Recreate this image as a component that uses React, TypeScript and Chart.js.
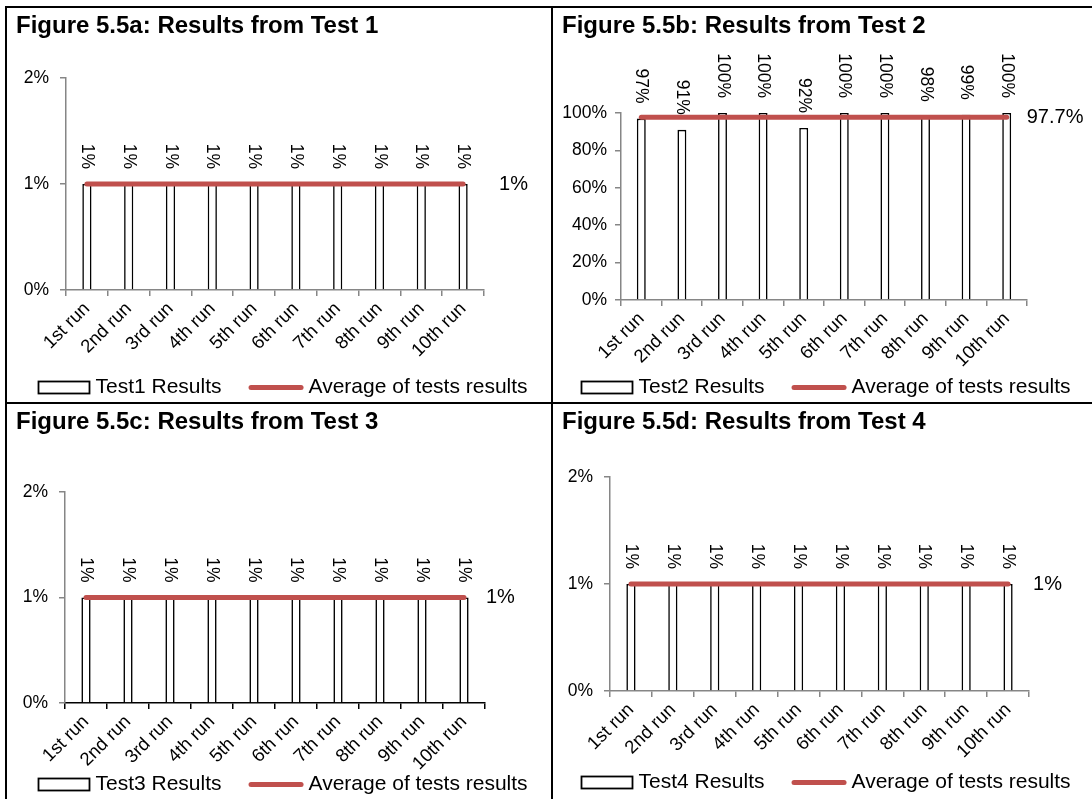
import React, { useEffect, useRef } from 'react';
import { Chart, registerables } from 'chart.js';

Chart.register(...registerables);

const FONT = '"Liberation Sans", Arial, Helvetica, sans-serif';

// ---------- data ----------
const runLabels = ['1st run', '2nd run', '3rd run', '4th run', '5th run', '6th run', '7th run', '8th run', '9th run', '10th run'];

const test1Results = [1, 1, 1, 1, 1, 1, 1, 1, 1, 1];
const test1Average = [1, 1, 1, 1, 1, 1, 1, 1, 1, 1];

const test2Results = [97, 91, 100, 100, 92, 100, 100, 98, 99, 100];
const test2Average = [97.7, 97.7, 97.7, 97.7, 97.7, 97.7, 97.7, 97.7, 97.7, 97.7];

const test3Results = [1, 1, 1, 1, 1, 1, 1, 1, 1, 1];
const test3Average = [1, 1, 1, 1, 1, 1, 1, 1, 1, 1];

const test4Results = [1, 1, 1, 1, 1, 1, 1, 1, 1, 1];
const test4Average = [1, 1, 1, 1, 1, 1, 1, 1, 1, 1];

const smallAxisMax = 2;
const smallAxisStep = 1;
const test2AxisMax = 100;
const test2AxisStep = 20;

const titles = [
  'Figure 5.5a: Results from Test 1',
  'Figure 5.5b: Results from Test 2',
  'Figure 5.5c: Results from Test 3',
  'Figure 5.5d: Results from Test 4',
];
const barSeriesNames = ['Test1 Results', 'Test2 Results', 'Test3 Results', 'Test4 Results'];
const lineSeriesName = 'Average of tests results';
const averageLabels = ['1%', '97.7%', '1%', '1%'];

// ---------- styles / layout ----------
const AXIS_GREY = '#868686';
const AVG_RED = '#C0504D';

type Panel = {
  title: string;
  barName: string;
  values: number[];
  average: number[];
  avgLabel: string;
  yMax: number;
  yStep: number;
  x: number; y: number; w: number; h: number;
  area: { l: number; t: number; r: number; b: number };
  yAxisW: number;
  yPad: number;
  xAxisColor: string;
  avgDx: number;
  legendY: number;
};

const X_AXIS_H = 80;

const panels: Panel[] = [
  {
    title: titles[0], barName: barSeriesNames[0], values: test1Results, average: test1Average, avgLabel: averageLabels[0],
    yMax: smallAxisMax, yStep: smallAxisStep,
    x: 8, y: 9, w: 543, h: 393,
    area: { l: 58, t: 69, r: 476, b: 281 }, yAxisW: 55, yPad: 11,
    xAxisColor: AXIS_GREY, avgDx: 36, legendY: 378,
  },
  {
    title: titles[1], barName: barSeriesNames[1], values: test2Results, average: test2Average, avgLabel: averageLabels[1],
    yMax: test2AxisMax, yStep: test2AxisStep,
    x: 554, y: 9, w: 538, h: 393,
    area: { l: 67, t: 104, r: 473, b: 291 }, yAxisW: 60, yPad: 8,
    xAxisColor: AXIS_GREY, avgDx: 20, legendY: 378,
  },
  {
    title: titles[2], barName: barSeriesNames[2], values: test3Results, average: test3Average, avgLabel: averageLabels[2],
    yMax: smallAxisMax, yStep: smallAxisStep,
    x: 8, y: 405, w: 543, h: 394,
    area: { l: 57, t: 87, r: 477, b: 298 }, yAxisW: 55, yPad: 11,
    xAxisColor: '#000000', avgDx: 22, legendY: 379,
  },
  {
    title: titles[3], barName: barSeriesNames[3], values: test4Results, average: test4Average, avgLabel: averageLabels[3],
    yMax: smallAxisMax, yStep: smallAxisStep,
    x: 554, y: 405, w: 538, h: 394,
    area: { l: 56, t: 72, r: 475, b: 286 }, yAxisW: 50, yPad: 11,
    xAxisColor: AXIS_GREY, avgDx: 25, legendY: 377,
  },
];

const overlayPlugin = {
  id: 'overlay',
  afterDraw(chart: any, _args: any, opts: any) {
    const ctx: CanvasRenderingContext2D = chart.ctx;
    ctx.save();

    // title
    ctx.fillStyle = '#000';
    ctx.font = `bold 24px ${FONT}`;
    ctx.textAlign = 'left';
    ctx.textBaseline = 'middle';
    ctx.fillText(opts.title, 8, 17);

    // rotated data labels above each bar
    const barMeta = chart.getDatasetMeta(0);
    const values = chart.data.datasets[0].data as number[];
    ctx.font = `17.5px ${FONT}`;
    barMeta.data.forEach((bar: any, i: number) => {
      ctx.save();
      ctx.translate(bar.x, bar.y - 15);
      ctx.rotate(Math.PI / 2);
      ctx.textAlign = 'right';
      ctx.textBaseline = 'middle';
      ctx.fillText(`${values[i]}%`, 0, 0);
      ctx.restore();
    });

    // average label right of last line point
    const lineMeta = chart.getDatasetMeta(1);
    const last = lineMeta.data[lineMeta.data.length - 1];
    ctx.font = `20px ${FONT}`;
    ctx.textAlign = 'left';
    ctx.textBaseline = 'middle';
    ctx.fillText(opts.avgLabel, last.x + opts.avgDx, last.y);

    // legend
    ctx.font = `21px ${FONT}`;
    const barText = chart.data.datasets[0].label;
    const lineText = chart.data.datasets[1].label;
    const boxW = 51, gap1 = 6, gap2 = 27, lineW = 55, gap3 = 5;
    const t1 = ctx.measureText(barText).width;
    const t2 = ctx.measureText(lineText).width;
    const total = boxW + gap1 + t1 + gap2 + lineW + gap3 + t2;
    let x = Math.round((chart.width - total) / 2 + 3) + 0.5;
    const y = Math.round(opts.legendY) + 0.5;
    ctx.fillStyle = '#fff';
    ctx.fillRect(x, y - 6, boxW, 12);
    ctx.strokeStyle = '#000';
    ctx.lineWidth = 1.8;
    ctx.strokeRect(x, y - 6, boxW, 12);
    x += boxW + gap1;
    ctx.fillStyle = '#000';
    ctx.fillText(barText, x, y);
    x += t1 + gap2;
    ctx.strokeStyle = AVG_RED;
    ctx.lineWidth = 5;
    ctx.lineCap = 'round';
    ctx.beginPath();
    ctx.moveTo(x + 2.5, y);
    ctx.lineTo(x + lineW - 2.5, y);
    ctx.stroke();
    x += lineW + gap3;
    ctx.fillText(lineText, x, y);

    ctx.restore();
  },
};

function buildConfig(p: Panel): any {
  return {
    type: 'bar',
    data: {
      labels: runLabels,
      datasets: [
        {
          type: 'bar',
          label: p.barName,
          data: p.values,
          backgroundColor: '#ffffff',
          borderColor: '#000000',
          borderWidth: 1.6,
          barPercentage: 0.22,
          categoryPercentage: 1,
          order: 1,
        },
        {
          type: 'line',
          label: lineSeriesName,
          data: p.average,
          borderColor: AVG_RED,
          backgroundColor: AVG_RED,
          borderWidth: 5,
          borderCapStyle: 'round',
          pointRadius: 0,
          fill: false,
          order: 0,
        },
      ],
    },
    options: {
      responsive: false,
      maintainAspectRatio: false,
      animation: false,
      events: [],
      layout: {
        autoPadding: false,
        padding: {
          left: p.area.l - p.yAxisW,
          top: p.area.t,
          right: p.w - p.area.r,
          bottom: p.h - p.area.b - X_AXIS_H,
        },
      },
      plugins: {
        legend: { display: false },
        title: { display: false },
        tooltip: { enabled: false },
        overlay: { title: p.title, avgLabel: p.avgLabel, avgDx: p.avgDx, legendY: p.legendY },
      },
      scales: {
        x: {
          type: 'category',
          offset: true,
          grid: { offset: true, drawOnChartArea: false, drawTicks: true, tickLength: 6, color: p.xAxisColor, lineWidth: 1.5 },
          border: { display: true, color: p.xAxisColor, width: 1.5 },
          ticks: {
            autoSkip: false,
            maxRotation: 45,
            minRotation: 45,
            color: '#000',
            padding: 2,
            font: { family: FONT, size: 18.5 },
          },
          afterFit: (s: any) => { s.height = X_AXIS_H; },
        },
        y: {
          min: 0,
          max: p.yMax,
          grid: { drawOnChartArea: false, drawTicks: true, tickLength: 6, color: AXIS_GREY, lineWidth: 1.5 },
          border: { display: true, color: AXIS_GREY, width: 1.5 },
          ticks: {
            stepSize: p.yStep,
            color: '#000',
            padding: p.yPad,
            font: { family: FONT, size: 17.5 },
            callback: (v: number) => `${v}%`,
          },
          afterFit: (s: any) => { s.width = p.yAxisW; },
        },
      },
    },
    plugins: [overlayPlugin],
  };
}

function ChartPanel({ p }: { p: Panel }) {
  const ref = useRef<HTMLCanvasElement>(null);
  useEffect(() => {
    const chart = new Chart(ref.current as HTMLCanvasElement, buildConfig(p));
    return () => chart.destroy();
  }, [p]);
  return (
    <canvas
      ref={ref}
      width={p.w}
      height={p.h}
      style={{ position: 'absolute', left: p.x, top: p.y, width: p.w, height: p.h }}
    />
  );
}

const line = (l: number, t: number, w: number, h: number) => (
  <div style={{ position: 'absolute', left: l, top: t, width: w, height: h, background: '#000' }} />
);

export default function App() {
  return (
    <div style={{ position: 'fixed', left: 0, top: 0, width: 1092, height: 799, background: '#fff', overflow: 'hidden' }}>
      {line(5, 6, 1100, 2)}
      {line(5, 6, 2, 800)}
      {line(551, 6, 2, 800)}
      {line(5, 402, 1100, 2)}
      {panels.map((p, i) => (
        <ChartPanel key={i} p={p} />
      ))}
    </div>
  );
}
